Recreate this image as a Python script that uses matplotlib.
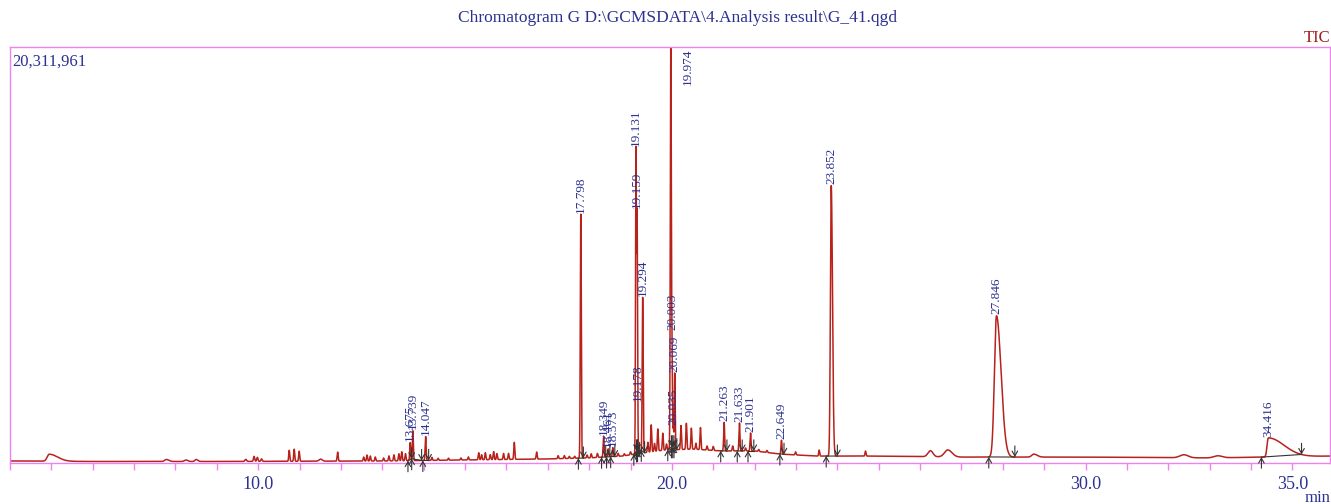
import numpy as np
import matplotlib
matplotlib.use('Agg')
import matplotlib.pyplot as plt
from matplotlib.ticker import MultipleLocator

plt.rcParams['font.family'] = ['Liberation Serif', 'DejaVu Serif']

# labelled peaks (retention time, height above baseline, left/right width, integration start/end)
label_rt = [13.675, 13.739, 14.047, 17.798, 18.349, 18.461, 18.573, 19.131, 19.159, 19.178,
            19.294, 19.974, 20.003, 20.035, 20.069, 21.263, 21.633, 21.901, 22.649, 23.852,
            27.846, 34.416]
label_height = [880000, 1460000, 1170000, 11910000, 1030000, 390000, 440000, 14800000, 11600000, 600000,
                7600000, 19800000, 4700000, 1100000, 3760000, 1400000, 1370000, 880000, 680000, 13200000,
                6900000, 930000]
label_sig_l = [0.012, 0.012, 0.012, 0.012, 0.012, 0.012, 0.012, 0.010, 0.010, 0.010,
               0.012, 0.012, 0.010, 0.010, 0.010, 0.012, 0.012, 0.012, 0.012, 0.020,
               0.050, 0.030]
label_sig_r = [0.012, 0.012, 0.012, 0.012, 0.012, 0.012, 0.012, 0.010, 0.010, 0.010,
               0.012, 0.012, 0.010, 0.010, 0.010, 0.012, 0.012, 0.012, 0.012, 0.030,
               0.110, 0.380]
label_start = [13.62, 13.71, 13.98, 17.74, 18.30, 18.42, 18.52, 19.08, 19.145, 19.17,
               19.26, 19.90, 19.99, 20.02, 20.05, 21.18, 21.58, 21.84, 22.61, 23.73,
               27.66, 34.25]
label_end = [13.71, 13.95, 14.12, 17.86, 18.40, 18.50, 18.62, 19.145, 19.17, 19.22,
             19.34, 19.99, 20.02, 20.05, 20.12, 21.33, 21.70, 21.98, 22.71, 24.00,
             28.29, 35.22]

# small unlabelled peaks
minor_rt = [4.95, 7.78, 8.26, 8.50, 9.70, 9.90, 9.98, 10.08, 10.75, 10.87, 10.99, 11.51, 11.92,
            12.55, 12.63, 12.71, 12.83, 13.03, 13.16, 13.28, 13.40, 13.47, 13.56,
            14.20, 14.35, 14.60, 14.90, 15.08, 15.33, 15.40, 15.49, 15.61, 15.69, 15.77, 15.93,
            16.05, 16.19, 16.73, 17.25, 17.40, 17.52, 17.65, 17.95, 18.05, 18.20, 18.70, 18.85,
            19.00, 19.42, 19.50, 19.58, 19.66, 19.78, 19.87, 20.22, 20.35, 20.47, 20.58, 20.69,
            20.85, 21.00, 21.47, 21.78, 22.10, 22.30, 22.99, 23.56, 24.68, 26.25, 26.67, 28.75,
            32.38, 33.20]
minor_height = [342000, 98000, 73000, 98000, 98000, 244000, 195000, 122000, 537000, 586000, 488000, 98000, 439000,
                195000, 293000, 244000, 195000, 146000, 244000, 293000, 342000, 439000, 342000,
                146000, 98000, 98000, 98000, 146000, 342000, 244000, 342000, 244000, 390000, 293000, 293000,
                293000, 830000, 342000, 146000, 146000, 98000, 98000, 146000, 195000, 195000, 146000, 98000,
                146000, 488000, 1318000, 390000, 1074000, 830000, 293000, 1171000, 1269000, 1025000, 293000, 1074000,
                195000, 195000, 244000, 146000, 98000, 98000, 146000, 293000, 244000, 293000, 342000, 146000,
                146000, 98000]
minor_sig_l = [0.05] + [0.04, 0.04, 0.03, 0.02] + [0.015] * 3 + [0.012] * 3 + [0.04, 0.012] + \
              [0.012] * 55 + [0.06, 0.08, 0.05, 0.10, 0.10]
minor_sig_r = [0.20] + [0.06, 0.04, 0.04, 0.02] + [0.015] * 3 + [0.012] * 3 + [0.04, 0.012] + \
              [0.012] * 55 + [0.06, 0.10, 0.08, 0.10, 0.10]

# drifting baseline
base_rt = [4.0, 6.0, 9.0, 13.0, 15.0, 17.0, 18.0, 18.8, 19.3, 19.8, 20.5, 21.2, 22.0, 22.6,
           23.5, 25.0, 27.0, 30.0, 33.0, 34.3, 35.9]
base_level = [100000, 75000, 75000, 100000, 150000, 200000, 250000, 340000, 490000, 630000, 680000,
              590000, 590000, 440000, 340000, 340000, 290000, 290000, 250000, 290000, 340000]

y_max = 20311961


def peak(t, rt, h, sl, sr):
    s = np.where(t < rt, sl, sr)
    return h * np.exp(-0.5 * ((t - rt) / s) ** 2)


t = np.arange(4.0, 35.9, 0.002)
base = np.interp(t, base_rt, base_level)
signal = base.copy()
for rt, h, sl, sr in zip(minor_rt, minor_height, minor_sig_l, minor_sig_r):
    signal = signal + peak(t, rt, h, sl, sr)
for rt, h, sl, sr in zip(label_rt, label_height, label_sig_l, label_sig_r):
    signal = signal + peak(t, rt, h, sl, sr)

fig = plt.figure(figsize=(13.31, 5.04), dpi=100)
ax = fig.add_axes([0.0075, 0.0813, 0.9915, 0.8254])
ax.plot(t, signal, color='#b8221b', lw=1.1)
ax.set_xlim(4.0, 35.9)
ax.set_ylim(0, y_max)

navy = '#2c3190'
arrow = dict(arrowstyle='->,head_length=0.35,head_width=0.2', color='#333333', lw=0.8, shrinkA=0, shrinkB=0)
for s, e in zip(label_start, label_end):
    # integration marks sit on the baseline under the peak
    ys = min(np.interp(s, t, signal), np.interp(s, base_rt, base_level) + 150000)
    ye = min(np.interp(e, t, signal), np.interp(e, base_rt, base_level) + 150000)
    ax.plot([s, e], [ys, ye], color='#333333', lw=0.8)
    ax.annotate('', xy=(s, ys), xytext=(0, -8), textcoords='offset points', annotation_clip=False,
                arrowprops=arrow)
    ax.annotate('', xy=(e, ye), xytext=(0, 8), textcoords='offset points', annotation_clip=False,
                arrowprops=arrow)

for rt in label_rt:
    yp = np.interp(rt, t, signal)
    if yp >= y_max:
        ax.annotate(f'{rt:.3f}', xy=(rt, y_max), xytext=(12, -1), textcoords='offset points',
                    rotation=90, ha='center', va='top', fontsize=9.5, color=navy)
    else:
        ax.annotate(f'{rt:.3f}', xy=(rt, yp), xytext=(0, 1), textcoords='offset points',
                    rotation=90, ha='center', va='bottom', fontsize=9.5, color=navy)

for sp in ax.spines.values():
    sp.set_color('#ee82ee')
    sp.set_linewidth(1.0)
ax.set_yticks([])
ax.set_xticks([10, 20, 30, 35])
ax.set_xticklabels(['10.0', '20.0', '30.0', '35.0'])
ax.xaxis.set_minor_locator(MultipleLocator(1.0))
ax.tick_params(axis='x', which='both', direction='out', length=5, width=1, color='#ee82ee',
               labelcolor=navy, labelsize=13, pad=4)

ax.text(0.002, 0.985, '20,311,961', transform=ax.transAxes, ha='left', va='top', fontsize=12, color=navy)
fig.text(0.509, 0.964, r'Chromatogram G D:\GCMSDATA\4.Analysis result\G_41.qgd', ha='center', va='center',
         fontsize=12.5, color=navy)
fig.text(0.9995, 0.925, 'TIC', ha='right', va='center', fontsize=12, color='#a01c1c')
fig.text(0.9995, 0.012, 'min', ha='right', va='center', fontsize=12, color=navy)

fig.savefig('out.png', dpi=100)
